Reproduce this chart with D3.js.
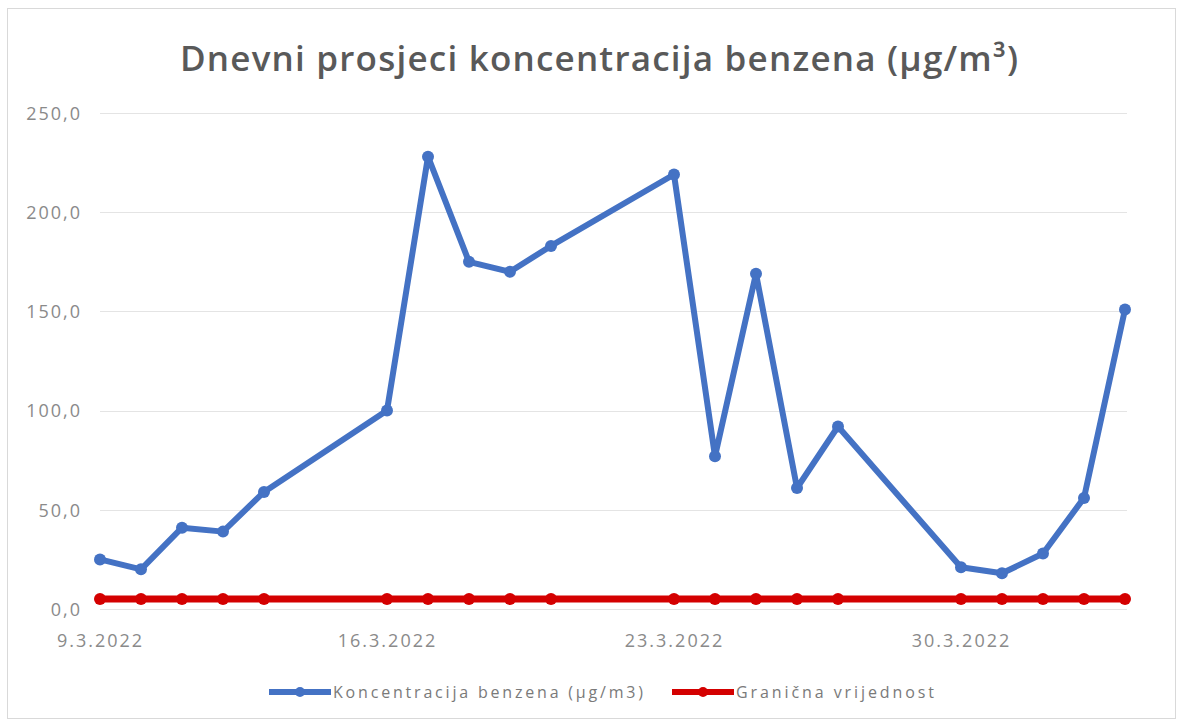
<!DOCTYPE html>
<html>
<head>
<meta charset="utf-8">
<script src="https://cdn.jsdelivr.net/npm/d3@7"></script>
<style>
  body { margin: 0; background: #fff; }
  svg text { font-family: "Open Sans", "Noto Sans", sans-serif; }
</style>
</head>
<body>
<div id="chart"></div>
<script>
// dnevni prosjeci (datum, vrijednost)
var dates = ["2022-03-09","2022-03-10","2022-03-11","2022-03-12","2022-03-13",
             "2022-03-16","2022-03-17","2022-03-18","2022-03-19","2022-03-20",
             "2022-03-23","2022-03-24","2022-03-25","2022-03-26","2022-03-27",
             "2022-03-30","2022-03-31","2022-04-01","2022-04-02","2022-04-03"];
var benzen = [25, 20, 41, 39, 59, 100, 228, 175, 170, 183,
              219, 77, 169, 61, 92, 21, 18, 28, 56, 151];
var granica = [5, 5, 5, 5, 5, 5, 5, 5, 5, 5, 5, 5, 5, 5, 5, 5, 5, 5, 5, 5];
var xTicks = ["2022-03-09","2022-03-16","2022-03-23","2022-03-30"];
var yTicks = [0, 50, 100, 150, 200, 250];

var title = "Dnevni prosjeci koncentracija benzena (\u00b5g/m\u00b3)";
var legendNames = ["Koncentracija benzena (\u00b5g/m3)", "Grani\u010dna vrijednost"];
var colors = ["#4472c4", "#d40000"];

var width = 1181, height = 724;
var parse = d3.timeParse("%Y-%m-%d");
var fmtX = d3.timeFormat("%-d.%-m.%Y");
var fmtY = function(d) { return d3.format(".1f")(d).replace(".", ","); };

var svg = d3.select("#chart").append("svg")
  .attr("width", width).attr("height", height);

svg.append("rect")
  .attr("x", 7.5).attr("y", 8.5)
  .attr("width", 1168).attr("height", 710)
  .attr("fill", "#fff").attr("stroke", "#d9d9d9");

var x = d3.scaleTime()
  .domain([parse(dates[0]), parse(dates[dates.length - 1])])
  .range([100, 1125]);
var y = d3.scaleLinear().domain([0, 250]).range([609, 113]);

// gridlines
svg.append("g").selectAll("line")
  .data(yTicks)
  .enter().append("line")
  .attr("x1", 100).attr("x2", 1127)
  .attr("y1", function(d) { return Math.round(y(d)) + 0.5; })
  .attr("y2", function(d) { return Math.round(y(d)) + 0.5; })
  .attr("stroke", "#e4e4e4").attr("stroke-width", 1);

// y axis
var yAxis = d3.axisLeft(y).tickValues(yTicks).tickFormat(fmtY).tickSize(0).tickPadding(0);
var gy = svg.append("g").attr("transform", "translate(82,0)").call(yAxis);
gy.select(".domain").remove();
gy.selectAll("text").attr("fill", "#8a8a8a").attr("font-size", "18px")
  .attr("letter-spacing", "2px").attr("dy", "0.35em");

// x axis
var xAxis = d3.axisBottom(x).tickValues(xTicks.map(parse)).tickFormat(fmtX).tickSize(0).tickPadding(0);
var gx = svg.append("g").attr("transform", "translate(0,634)").call(xAxis);
gx.select(".domain").remove();
gx.selectAll("text").attr("fill", "#8a8a8a").attr("font-size", "18px")
  .attr("letter-spacing", "2px");

// series
var series = [benzen, granica];
series.forEach(function(vals, i) {
  var pts = dates.map(function(d, j) { return [parse(d), vals[j]]; });
  var line = d3.line()
    .x(function(d) { return x(d[0]); })
    .y(function(d) { return y(d[1]); });
  svg.append("path")
    .datum(pts)
    .attr("d", line)
    .attr("fill", "none")
    .attr("stroke", colors[i])
    .attr("stroke-width", i == 0 ? 6 : 7)
    .attr("stroke-linejoin", "round");
  svg.append("g").selectAll("circle")
    .data(pts)
    .enter().append("circle")
    .attr("cx", function(d) { return x(d[0]); })
    .attr("cy", function(d) { return y(d[1]); })
    .attr("r", 6)
    .attr("fill", colors[i]);
});

// title
svg.append("text")
  .attr("x", 599).attr("y", 71)
  .attr("text-anchor", "middle")
  .attr("fill", "#595959")
  .attr("font-size", "35px")
  .attr("font-weight", 600)
  .attr("textLength", 838)
  .attr("lengthAdjust", "spacing")
  .text(title);

// legend
var legX = [269, 672];
var legW = [310, 198];
legendNames.forEach(function(name, i) {
  var g = svg.append("g").attr("transform", "translate(" + legX[i] + ",692)");
  g.append("line").attr("x1", 0).attr("x2", 62).attr("y1", 0).attr("y2", 0)
    .attr("stroke", colors[i]).attr("stroke-width", 6);
  g.append("circle").attr("cx", 31).attr("cy", 0).attr("r", 5).attr("fill", colors[i]);
  g.append("text").attr("x", 64).attr("y", 6)
    .attr("fill", "#7a7a7a").attr("font-size", "16px")
    .attr("textLength", legW[i]).attr("lengthAdjust", "spacing")
    .text(name);
});
</script>
</body>
</html>
